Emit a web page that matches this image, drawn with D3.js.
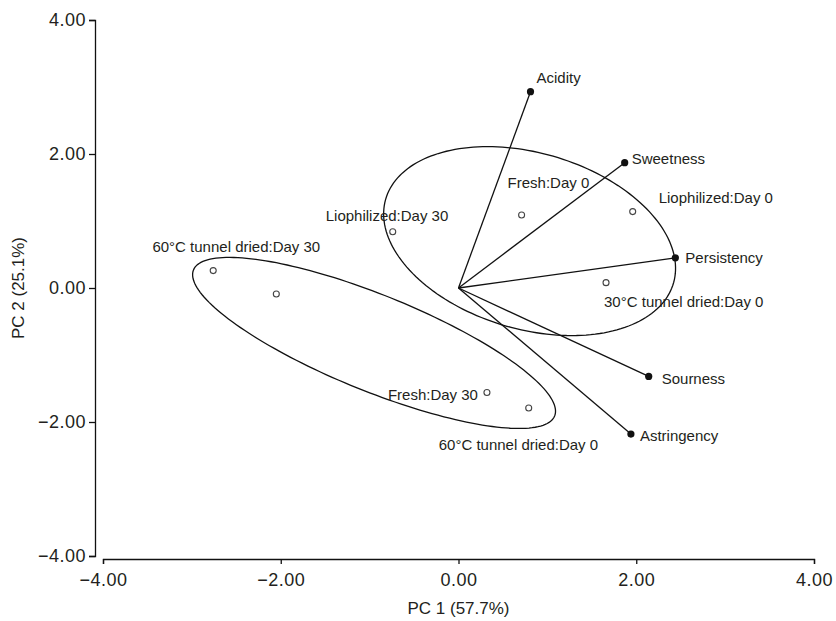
<!DOCTYPE html>
<html>
<head>
<meta charset="utf-8">
<script src="https://cdn.jsdelivr.net/npm/d3@7"></script>
<style>
  body { margin: 0; background: #fff; }
  svg text { font-family: "Liberation Sans", Arial, Helvetica, sans-serif; fill: #231f20; }
</style>
</head>
<body>
<div id="chart"></div>
<script>
// attribute loadings (filled dots, drawn as vectors from origin)
const attributes = ["Acidity", "Sweetness", "Persistency", "Sourness", "Astringency"];
const attrPC1 = [0.81, 1.87, 2.44, 2.14, 1.94];
const attrPC2 = [2.93, 1.87, 0.45, -1.32, -2.18];

// sample scores (open circles)
const samples = ["Fresh:Day 0", "Liophilized:Day 0", "Liophilized:Day 30", "30\u00b0C tunnel dried:Day 0",
  "60\u00b0C tunnel dried:Day 30", "", "Fresh:Day 30", "60\u00b0C tunnel dried:Day 0"];
const samplePC1 = [0.71, 1.96, -0.74, 1.66, -2.76, -2.05, 0.32, 0.79];
const samplePC2 = [1.09, 1.14, 0.84, 0.08, 0.26, -0.09, -1.56, -1.79];

// group ellipses: centre, radii and angle (degrees) in data units
const ellipseCX = [0.80, -0.95];
const ellipseCY = [0.70, -0.82];
const ellipseRX = [1.76, 2.31];
const ellipseRY = [1.26, 0.68];
const ellipseAngle = [-31, -29.3];

const ticks = [-4, -2, 0, 2, 4];
const xTitle = "PC 1 (57.7%)";
const yTitle = "PC 2 (25.1%)";

// label placement (px offsets from the mark)
const attrLabelPos = [[6, -14, "start"], [7, -4, "start"], [10, 0, "start"], [13, 2, "start"], [9, 2, "start"]];
const sampleLabelPos = [[-14, -32, "start"], [26, -14, "start"], [-67, -16, "start"], [-2, 19, "start"],
  [107, -24, "end"], [0, 0, "start"], [-9, 2, "end"], [-90, 37, "start"]];

const width = 836, height = 621;

const svg = d3.select("#chart").append("svg")
  .attr("width", width)
  .attr("height", height);

const x = d3.scaleLinear().domain([-4, 4]).range([103, 814]);
const y = d3.scaleLinear().domain([-4, 4]).range([556, 20]);
const fmt = d3.format(".2f");

// axes
const xAxis = svg.append("g")
  .attr("transform", "translate(0,559)")
  .call(d3.axisBottom(x).tickValues(ticks).tickFormat(fmt).tickSizeOuter(0).tickSize(5).tickPadding(9));
const yAxis = svg.append("g")
  .attr("transform", "translate(95,0)")
  .call(d3.axisLeft(y).tickValues(ticks).tickFormat(fmt).tickSizeOuter(0).tickSize(6).tickPadding(3));

[xAxis, yAxis].forEach(a => {
  a.selectAll("path, line").attr("stroke", "#111").attr("stroke-width", 1.3);
  a.selectAll("text")
    .style("font-family", '"Liberation Sans", Arial, sans-serif')
    .style("font-size", "18px")
    .style("letter-spacing", "0.5px")
    .attr("fill", "#231f20");
});

svg.append("text")
  .attr("x", x(0)).attr("y", 614)
  .attr("text-anchor", "middle")
  .style("font-size", "17px")
  .text(xTitle);

svg.append("text")
  .attr("transform", `translate(24,${y(0)}) rotate(-90)`)
  .attr("text-anchor", "middle")
  .style("font-size", "17px")
  .text(yTitle);

// ellipses
const ellipseLine = d3.line()
  .x(d => x(d[0]))
  .y(d => y(d[1]))
  .curve(d3.curveLinearClosed);

ellipseCX.forEach((cx, i) => {
  const phi = ellipseAngle[i] * Math.PI / 180;
  const pts = d3.range(0, 360, 2).map(deg => {
    const t = deg * Math.PI / 180;
    const u = ellipseRX[i] * Math.cos(t), v = ellipseRY[i] * Math.sin(t);
    return [cx + u * Math.cos(phi) - v * Math.sin(phi), ellipseCY[i] + u * Math.sin(phi) + v * Math.cos(phi)];
  });
  svg.append("path")
    .attr("d", ellipseLine(pts))
    .attr("fill", "none")
    .attr("stroke", "#111")
    .attr("stroke-width", 1.3);
});

// vectors
const attrData = attributes.map((name, i) => ({ name, pc1: attrPC1[i], pc2: attrPC2[i], pos: attrLabelPos[i] }));

svg.append("g").selectAll("line")
  .data(attrData)
  .enter().append("line")
    .attr("x1", x(0)).attr("y1", y(0))
    .attr("x2", d => x(d.pc1)).attr("y2", d => y(d.pc2))
    .attr("stroke", "#111")
    .attr("stroke-width", 1.3);

svg.append("g").selectAll("circle")
  .data(attrData)
  .enter().append("circle")
    .attr("cx", d => x(d.pc1)).attr("cy", d => y(d.pc2))
    .attr("r", 3.6)
    .attr("fill", "#111");

svg.append("g").selectAll("text")
  .data(attrData)
  .enter().append("text")
    .attr("x", d => x(d.pc1) + d.pos[0])
    .attr("y", d => y(d.pc2) + d.pos[1])
    .attr("dy", "0.35em")
    .attr("text-anchor", d => d.pos[2])
    .style("font-size", "15px")
    .text(d => d.name);

// samples
const sampleData = samples.map((name, i) => ({ name, pc1: samplePC1[i], pc2: samplePC2[i], pos: sampleLabelPos[i] }));

svg.append("g").selectAll("circle")
  .data(sampleData)
  .enter().append("circle")
    .attr("cx", d => x(d.pc1)).attr("cy", d => y(d.pc2))
    .attr("r", 3)
    .attr("fill", "#fff")
    .attr("stroke", "#444")
    .attr("stroke-width", 1.1);

svg.append("g").selectAll("text")
  .data(sampleData.filter(d => d.name))
  .enter().append("text")
    .attr("x", d => x(d.pc1) + d.pos[0])
    .attr("y", d => y(d.pc2) + d.pos[1])
    .attr("dy", "0.35em")
    .attr("text-anchor", d => d.pos[2])
    .style("font-size", "15px")
    .text(d => d.name);
</script>
</body>
</html>
